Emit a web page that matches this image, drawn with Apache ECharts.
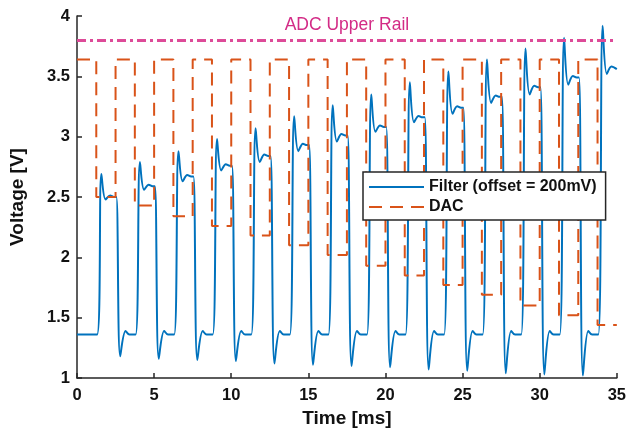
<!DOCTYPE html>
<html>
<head>
<meta charset="utf-8">
<script src="https://cdn.jsdelivr.net/npm/echarts@6/dist/echarts.min.js"></script>
<style>
  html, body { margin: 0; padding: 0; background: #fff; }
  #chart { width: 629px; height: 436px; }
</style>
</head>
<body>
<div id="chart"></div>
<script>
// time axis [ms] and voltage axis [V]
const xTicks = [0, 5, 10, 15, 20, 25, 30, 35]
const yTicks = [1, 1.5, 2, 2.5, 3, 3.5, 4]

// DAC: high level between conversions, stepping low level during each pulse
const dacHigh = 3.64
const dacLow = [2.50, 2.43, 2.34, 2.26, 2.18, 2.10, 2.02, 1.93, 1.85, 1.77, 1.69, 1.60, 1.52, 1.44]
const dacStart = 1.25
const period = 2.5
const pulseLen = 1.25

// Filter output, read per pulse
const filterBase = 1.36
const filterPeak = [2.69, 2.79, 2.88, 2.98, 3.07, 3.17, 3.26, 3.35, 3.45, 3.54, 3.64, 3.73, 3.82, 3.92]
const filterDip = [2.48, 2.56, 2.63, 2.72, 2.79, 2.88, 2.96, 3.04, 3.12, 3.19, 3.28, 3.35, 3.43, 3.52]
const filterSettle = [2.50, 2.59, 2.67, 2.76, 2.84, 2.93, 3.01, 3.08, 3.16, 3.24, 3.33, 3.41, 3.49, 3.57]
const filterUnder = [1.18, 1.16, 1.15, 1.14, 1.12, 1.11, 1.10, 1.09, 1.07, 1.06, 1.04, 1.03, 1.02]
const filterBump = 1.39
const filterStart = 1.3

const adcRail = 3.8

const FONT = "'Liberation Sans', Arial, Helvetica, sans-serif"
const AXIS_COLOR = '#262626'
const xEnd = xTicks[xTicks.length - 1]

// build DAC step line
const dacData = [[0, dacHigh]]
dacLow.forEach(function (v, k) {
    const t = dacStart + period * k
    dacData.push([t, dacHigh])
    dacData.push([t, v])
    const tEnd = Math.min(t + pulseLen, xEnd)
    dacData.push([tEnd, v])
    if (t + pulseLen < xEnd) {
        dacData.push([tEnd, dacHigh])
    }
})

// build filter trace from per-pulse readings
const filterData = [[0, filterBase]]
filterPeak.forEach(function (p, k) {
    const r = filterStart + period * k
    filterData.push([r, filterBase])
    filterData.push([r + 0.28, p])
    filterData.push([r + 0.55, filterDip[k]])
    filterData.push([r + 0.85, filterSettle[k] + 0.012])
    if (k < filterUnder.length) {
        filterData.push([r + 1.1, filterSettle[k]])
        filterData.push([r + 1.25, filterSettle[k]])
        filterData.push([r + 1.5, filterUnder[k]])
        filterData.push([r + 1.85, filterBump])
        filterData.push([r + 2.1, filterBase])
    } else {
        filterData.push([xEnd, filterSettle[k] - 0.01])
    }
})

const chart = echarts.init(document.getElementById('chart'))
chart.setOption({
    backgroundColor: '#fff',
    animation: false,
    grid: {
        left: 77,
        right: 9,
        top: 16,
        bottom: 58
    },
    legend: {
        data: ['Filter (offset = 200mV)', 'DAC'],
        orient: 'vertical',
        left: 363,
        top: 172,
        itemWidth: 55,
        itemHeight: 14,
        itemGap: 4,
        padding: [7, 9, 5, 5],
        backgroundColor: '#fff',
        borderColor: AXIS_COLOR,
        borderWidth: 1.5,
        borderRadius: 0,
        itemStyle: { opacity: 0 },
        textStyle: {
            fontFamily: FONT,
            fontWeight: 'bold',
            fontSize: 16,
            color: '#111'
        }
    },
    xAxis: {
        type: 'value',
        min: xTicks[0],
        max: xEnd,
        interval: 5,
        name: 'Time [ms]',
        nameLocation: 'middle',
        nameGap: 31,
        nameTextStyle: {
            fontFamily: FONT,
            fontWeight: 'bold',
            fontSize: 19,
            color: '#111'
        },
        axisLine: {
            onZero: false,
            lineStyle: { color: AXIS_COLOR, width: 1.5 }
        },
        axisTick: {
            inside: true,
            length: 5,
            lineStyle: { color: AXIS_COLOR, width: 1.5 }
        },
        axisLabel: {
            margin: 9,
            fontFamily: FONT,
            fontWeight: 'bold',
            fontSize: 16.5,
            color: '#111'
        },
        splitLine: { show: false }
    },
    yAxis: {
        type: 'value',
        min: yTicks[0],
        max: yTicks[yTicks.length - 1],
        interval: 0.5,
        name: 'Voltage [V]',
        nameLocation: 'middle',
        nameGap: 50,
        nameTextStyle: {
            fontFamily: FONT,
            fontWeight: 'bold',
            fontSize: 19,
            color: '#111'
        },
        axisLine: {
            show: true,
            lineStyle: { color: AXIS_COLOR, width: 1.5 }
        },
        axisTick: {
            show: true,
            inside: true,
            length: 5,
            lineStyle: { color: AXIS_COLOR, width: 1.5 }
        },
        axisLabel: {
            margin: 7,
            fontFamily: FONT,
            fontWeight: 'bold',
            fontSize: 16.5,
            color: '#111'
        },
        splitLine: { show: false }
    },
    series: [
        {
            name: 'Filter (offset = 200mV)',
            type: 'line',
            data: filterData,
            symbol: 'none',
            smooth: 0.35,
            color: '#0072BD',
            lineStyle: { width: 2, color: '#0072BD' },
            z: 2
        },
        {
            name: 'DAC',
            type: 'line',
            data: dacData,
            symbol: 'none',
            color: '#D95319',
            lineStyle: { width: 2, color: '#D95319', type: [13, 8] },
            z: 3
        },
        {
            name: 'ADC Upper Rail',
            type: 'line',
            data: [],
            symbol: 'none',
            z: 4,
            markLine: {
                silent: true,
                symbol: 'none',
                lineStyle: { color: '#DD4A98', width: 3, type: [9, 4, 3, 4] },
                label: {
                    show: true,
                    position: 'insideMiddleTop',
                    distance: 6,
                    formatter: 'ADC Upper Rail',
                    fontFamily: FONT,
                    fontSize: 17.5,
                    color: '#D32B86'
                },
                data: [{ yAxis: adcRail }]
            }
        }
    ]
})
</script>
</body>
</html>
